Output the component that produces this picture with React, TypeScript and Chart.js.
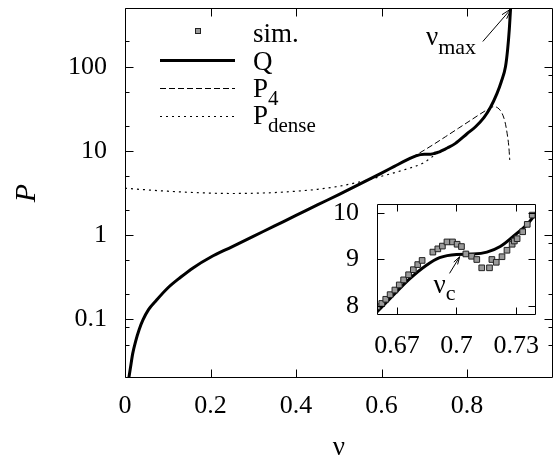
import React, { useEffect, useRef } from "react";
import { Chart, registerables } from "chart.js";
Chart.register(...registerables);

// ---------- data ----------
const qNu = [0.009, 0.013, 0.018, 0.025, 0.033, 0.042, 0.055, 0.073, 0.1, 0.13, 0.16, 0.2, 0.25, 0.3, 0.35, 0.4, 0.45, 0.5, 0.55, 0.6, 0.63, 0.6594, 0.6678, 0.6764, 0.6847, 0.6915, 0.7, 0.7085, 0.7153, 0.722, 0.7288, 0.7356, 0.74, 0.745, 0.755, 0.773, 0.8, 0.82, 0.84, 0.855, 0.87, 0.88, 0.89, 0.895, 0.899, 0.902, 0.904];
const qP = [0.02, 0.027, 0.039, 0.055, 0.075, 0.098, 0.13, 0.167, 0.235, 0.315, 0.41, 0.545, 0.725, 0.965, 1.285, 1.71, 2.28, 3.03, 4.05, 5.45, 6.55, 7.84, 8.21, 8.58, 8.87, 9.04, 9.11, 9.12, 9.16, 9.28, 9.51, 9.76, 10.0, 10.3, 10.9, 12.3, 16.0, 19.4, 25.0, 33.0, 48.0, 66.0, 100, 160, 280, 500, 700];

const p4Nu = [0.009, 0.013, 0.018, 0.025, 0.033, 0.042, 0.055, 0.073, 0.1, 0.13, 0.16, 0.2, 0.25, 0.3, 0.35, 0.4, 0.45, 0.5, 0.55, 0.6, 0.63, 0.6594, 0.68, 0.72, 0.75, 0.78, 0.81, 0.84, 0.85, 0.862, 0.872, 0.882, 0.889, 0.894, 0.898, 0.9];
const p4P = [0.02, 0.027, 0.039, 0.055, 0.075, 0.098, 0.13, 0.167, 0.235, 0.315, 0.41, 0.545, 0.725, 0.965, 1.285, 1.71, 2.28, 3.03, 4.05, 5.45, 6.55, 7.84, 8.9, 11.8, 14.8, 18.6, 23.4, 29.4, 31.5, 33.5, 32.5, 28.0, 22.0, 16.0, 11.0, 7.8];

const denseNu = [0, 0.05, 0.1, 0.15, 0.2, 0.25, 0.3, 0.35, 0.4, 0.45, 0.5, 0.55, 0.6, 0.65, 0.7, 0.725];
const denseP = [3.6, 3.45, 3.32, 3.22, 3.15, 3.12, 3.14, 3.2, 3.32, 3.5, 3.8, 4.3, 5.0, 5.9, 7.3, 9.0];

const simNu = [0.6601, 0.6624, 0.6644, 0.6666, 0.669, 0.6712, 0.6734, 0.6759, 0.6783, 0.6805, 0.6827, 0.6881, 0.6906, 0.6929, 0.6952, 0.698, 0.7003, 0.7025, 0.7047, 0.7076, 0.7102, 0.7127, 0.7166, 0.7178, 0.72, 0.7229, 0.7254, 0.728, 0.7291, 0.7305, 0.7333, 0.7356, 0.7381];
const simP = [7.98, 8.05, 8.14, 8.24, 8.34, 8.45, 8.56, 8.67, 8.78, 8.89, 8.98, 9.16, 9.23, 9.29, 9.38, 9.38, 9.33, 9.28, 9.12, 9.07, 9.0, 8.82, 8.82, 9.0, 8.94, 9.06, 9.2, 9.33, 9.4, 9.45, 9.6, 9.76, 9.96];

const xTicks = [0, 0.2, 0.4, 0.6, 0.8];
const xTickLabels = ["0", "0.2", "0.4", "0.6", "0.8"];
const yTicks = [0.1, 1, 10, 100];
const yTickLabels = ["0.1", "1", "10", "100"];
const yMinorLeft = [200, 50, 20, 5, 2, 0.5, 0.2, 0.08, 0.05];
const yMinorRight = [200, 80, 50, 20, 8, 5, 2, 0.8, 0.5, 0.2, 0.08, 0.05];

const insetXTicks = [0.67, 0.7, 0.73];
const insetXTickLabels = ["0.67", "0.7", "0.73"];
const insetYTicks = [8, 9, 10];
const insetYTickLabels = ["8", "9", "10"];

const legendLabels = ["sim.", "Q", "P", "P"];
const legendSubs = ["", "", "4", "dense"];

// ---------- helpers ----------
const FONT = "'Liberation Serif', 'DejaVu Serif', 'Times New Roman', serif";
const pts = (xs: number[], ys: number[]) => xs.map((x, i) => ({ x, y: ys[i] }));

function drawSubText(ctx: CanvasRenderingContext2D, x: number, y: number, main: string, sub: string, size: number, subSize: number, drop: number) {
  ctx.font = `${size}px ${FONT}`;
  ctx.textBaseline = "alphabetic";
  ctx.textAlign = "left";
  ctx.fillStyle = "#000";
  const w = ctx.measureText(main).width;
  ctx.fillText(main, x, y);
  if (sub) {
    ctx.font = `${subSize}px ${FONT}`;
    ctx.fillText(sub, x + w, y + drop);
  }
}

function drawArrow(ctx: CanvasRenderingContext2D, x1: number, y1: number, x2: number, y2: number, head = 10) {
  ctx.beginPath();
  ctx.moveTo(x1, y1);
  ctx.lineTo(x2, y2);
  ctx.stroke();
  const ang = Math.atan2(y2 - y1, x2 - x1);
  const a = Math.PI / 11;
  ctx.beginPath();
  ctx.moveTo(x2 - head * Math.cos(ang - a), y2 - head * Math.sin(ang - a));
  ctx.lineTo(x2, y2);
  ctx.lineTo(x2 - head * Math.cos(ang + a), y2 - head * Math.sin(ang + a));
  ctx.stroke();
}

function frameAndTicks(chart: any, xt: number[], yt: number[], yl: number[], yr: number[], major: number, minor: number) {
  const { ctx, chartArea: a, scales } = chart;
  const x = scales.x, y = scales.y;
  const L = Math.round(a.left) + 0.5, R = Math.round(a.right) - 0.5, T = Math.round(a.top) + 0.5, B = Math.round(a.bottom) - 0.5;
  ctx.save();
  ctx.strokeStyle = "#000";
  ctx.lineWidth = 1;
  ctx.beginPath();
  ctx.rect(L, T, R - L, B - T);
  ctx.stroke();
  ctx.beginPath();
  xt.forEach((v) => {
    const px = Math.round(x.getPixelForValue(v)) + 0.5;
    ctx.moveTo(px, B); ctx.lineTo(px, B - major);
    ctx.moveTo(px, T); ctx.lineTo(px, T + major);
  });
  yt.forEach((v) => {
    const py = Math.round(y.getPixelForValue(v)) + 0.5;
    ctx.moveTo(L, py); ctx.lineTo(L + major, py);
    ctx.moveTo(R, py); ctx.lineTo(R - major, py);
  });
  yl.forEach((v) => {
    const py = Math.round(y.getPixelForValue(v)) + 0.5;
    ctx.moveTo(L, py); ctx.lineTo(L + minor, py);
  });
  yr.forEach((v) => {
    const py = Math.round(y.getPixelForValue(v)) + 0.5;
    ctx.moveTo(R, py); ctx.lineTo(R - minor, py);
  });
  ctx.stroke();
  ctx.restore();
}

const mainPlugin = {
  id: "mainDecor",
  afterDatasetsDraw(chart: any) {
    frameAndTicks(chart, xTicks, yTicks, yMinorLeft, yMinorRight, 8, 4);
    const { ctx, scales } = chart;
    const x = scales.x, y = scales.y;
    ctx.save();
    // legend
    const lx1 = 160, lx2 = 235, tx = 253;
    const rows = [31, 60, 88, 116];
    ctx.fillStyle = "#9a9a9a";
    ctx.strokeStyle = "#222";
    ctx.lineWidth = 1;
    ctx.fillRect(195.5, 28.5, 5, 5);
    ctx.strokeRect(195.5, 28.5, 5, 5);
    const ds = chart.data.datasets;
    const styles = [null, ds[0], ds[1], ds[2]];
    for (let i = 1; i < 4; i++) {
      const d: any = styles[i];
      ctx.beginPath();
      ctx.strokeStyle = "#000";
      ctx.lineWidth = d.borderWidth;
      ctx.setLineDash(d.borderDash || []);
      ctx.moveTo(lx1, rows[i] + 0.5);
      ctx.lineTo(lx2, rows[i] + 0.5);
      ctx.stroke();
    }
    ctx.setLineDash([]);
    const baselines = [42, 70, 97, 124];
    for (let i = 0; i < 4; i++) {
      drawSubText(ctx, tx, baselines[i], legendLabels[i], legendSubs[i], 27, 21, 8);
    }
    // nu_max annotation
    ctx.strokeStyle = "#000";
    ctx.lineWidth = 1;
    const ax1 = x.getPixelForValue(0.837), ay1 = y.getPixelForValue(200);
    const ax2 = x.getPixelForValue(0.9035), ay2 = y.getPixelForValue(490);
    drawArrow(ctx, ax1, ay1, ax2, ay2, 11);
    drawSubText(ctx, 426, 45, "\u03bd", "max", 27, 22, 9);
    ctx.restore();
  },
};

const insetPlugin = {
  id: "insetDecor",
  beforeDatasetsDraw(chart: any) {
    const { ctx, chartArea: a } = chart;
    ctx.save();
    ctx.fillStyle = "#fff";
    ctx.fillRect(a.left, a.top, a.right - a.left, a.bottom - a.top);
    ctx.restore();
  },
  afterDatasetsDraw(chart: any) {
    frameAndTicks(chart, insetXTicks, insetYTicks, [], [], 7, 4);
    const { ctx, scales } = chart;
    const x = scales.x, y = scales.y;
    ctx.save();
    ctx.strokeStyle = "#000";
    ctx.lineWidth = 1;
    const ax1 = x.getPixelForValue(0.6965), ay1 = y.getPixelForValue(8.70);
    const ax2 = x.getPixelForValue(0.7016), ay2 = y.getPixelForValue(9.06);
    drawArrow(ctx, ax1, ay1, ax2, ay2, 8);
    drawSubText(ctx, ax1 - 16, ay1 + 20, "\u03bd", "c", 27, 22, 7);
    ctx.restore();
  },
};

const zeroPad = (s: any) => {
  s.paddingTop = 0;
  s.paddingBottom = 0;
  s.paddingLeft = 0;
  s.paddingRight = 0;
};

function tickFont(size = 26) {
  return { family: FONT, size };
}

export default function App() {
  const mainRef = useRef<HTMLCanvasElement>(null);
  const insetRef = useRef<HTMLCanvasElement>(null);

  useEffect(() => {
    const main = new Chart(mainRef.current as HTMLCanvasElement, {
      type: "line",
      data: {
        datasets: [
          { label: "Q", data: pts(qNu, qP), borderColor: "#000", borderWidth: 3, pointRadius: 0, cubicInterpolationMode: "monotone", fill: false } as any,
          { label: "P4", data: pts(p4Nu, p4P), borderColor: "#000", borderWidth: 1, borderDash: [6, 3], pointRadius: 0, cubicInterpolationMode: "monotone", fill: false } as any,
          { label: "Pdense", data: pts(denseNu, denseP), borderColor: "#000", borderWidth: 1.2, borderDash: [2, 4], pointRadius: 0, cubicInterpolationMode: "monotone", fill: false } as any,
        ],
      },
      options: {
        animation: false,
        responsive: false,
        maintainAspectRatio: false,
        layout: { padding: { left: 0, top: 8, right: 1, bottom: 0 } },
        plugins: { legend: { display: false }, tooltip: { enabled: false } },
        scales: {
          x: {
            type: "linear",
            min: 0,
            max: 1,
            grid: { display: false, drawTicks: false },
            border: { display: false },
            afterBuildTicks: (s: any) => { s.ticks = xTicks.map((v) => ({ value: v })); },
            afterFit: (s: any) => { s.height = 82; zeroPad(s); },
            ticks: { autoSkip: false, maxRotation: 0, padding: 13, color: "#000", font: tickFont(), callback: (_v: any, i: number) => xTickLabels[i] },
            title: { display: true, text: "\u03bd", color: "#000", font: { family: FONT, size: 27, lineHeight: 1 }, padding: { top: 0, bottom: -1 } },
          },
          y: {
            type: "logarithmic",
            min: 0.02,
            max: 500,
            grid: { display: false, drawTicks: false },
            border: { display: false },
            afterBuildTicks: (s: any) => { s.ticks = yTicks.map((v) => ({ value: v })); },
            afterFit: (s: any) => { s.width = 125; zeroPad(s); },
            ticks: { autoSkip: false, padding: 18, color: "#000", font: tickFont(), callback: (_v: any, i: number) => yTickLabels[i] },
            title: { display: true, text: "P", color: "#000", font: { family: FONT, size: 30, style: "italic", lineHeight: 1 }, padding: { top: 12, bottom: 0 } },
          },
        },
      },
      plugins: [mainPlugin],
    } as any);

    const inset = new Chart(insetRef.current as HTMLCanvasElement, {
      type: "line",
      data: {
        datasets: [
          { label: "sim.", data: pts(simNu, simP), showLine: false, pointStyle: "rect", pointRadius: 4, pointBackgroundColor: "#9a9a9a", pointBorderColor: "#222", pointBorderWidth: 1 } as any,
          { label: "Q", data: pts(qNu, qP), borderColor: "#000", borderWidth: 3, pointRadius: 0, cubicInterpolationMode: "monotone", fill: false } as any,
        ],
      },
      options: {
        animation: false,
        responsive: false,
        maintainAspectRatio: false,
        layout: { padding: { left: 0, top: 14, right: 18, bottom: 0 } },
        plugins: { legend: { display: false }, tooltip: { enabled: false } },
        scales: {
          x: {
            type: "linear",
            min: 0.66,
            max: 0.74,
            grid: { display: false, drawTicks: false },
            border: { display: false },
            afterBuildTicks: (s: any) => { s.ticks = insetXTicks.map((v) => ({ value: v })); },
            afterFit: (s: any) => { s.height = 55; zeroPad(s); },
            ticks: { autoSkip: false, maxRotation: 0, padding: 16, color: "#000", font: tickFont(), callback: (_v: any, i: number) => insetXTickLabels[i] },
          },
          y: {
            type: "linear",
            min: 7.8,
            max: 10.2,
            grid: { display: false, drawTicks: false },
            border: { display: false },
            afterBuildTicks: (s: any) => { s.ticks = insetYTicks.map((v) => ({ value: v })); },
            afterFit: (s: any) => { s.width = 77; zeroPad(s); },
            ticks: { autoSkip: false, padding: 18, color: "#000", font: tickFont(), callback: (_v: any, i: number) => insetYTickLabels[i] },
          },
        },
      },
      plugins: [insetPlugin],
    } as any);

    let alive = true;
    const fonts: any = (document as any).fonts;
    if (fonts && fonts.load) {
      Promise.all([
        fonts.load(`26px "Liberation Serif"`),
        fonts.load(`italic 30px "Liberation Serif"`),
      ]).catch(() => {}).then(() => {
        if (alive) { main.update(); inset.update(); }
      });
    }

    return () => {
      alive = false;
      main.destroy();
      inset.destroy();
    };
  }, []);

  return (
    <div style={{ position: "absolute", left: 0, top: 0, width: 554, height: 460, background: "#fff" }}>
      <canvas ref={mainRef} width={554} height={460} style={{ position: "absolute", left: 0, top: 0, width: 554, height: 460 }} />
      <canvas ref={insetRef} width={254} height={180} style={{ position: "absolute", left: 300, top: 190, width: 254, height: 180 }} />
    </div>
  );
}
